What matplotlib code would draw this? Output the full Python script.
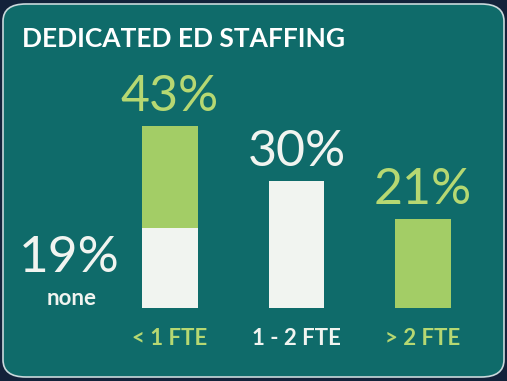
import matplotlib.pyplot as plt
from matplotlib.patches import FancyBboxPatch

# staffing shares (percent of EDs)
categories = ['< 1 FTE', '1 - 2 FTE', '> 2 FTE']
totals = [43, 30, 21]
none_share = 19

teal = '#0f6b6a'
navy = '#13223a'
green = '#a3cd66'
green_txt = '#b6d872'
white = '#f1f4f0'

plt.rcParams['font.family'] = ['Lato', 'DejaVu Sans']

fig = plt.figure(figsize=(5.07, 3.81), dpi=100)
fig.patch.set_facecolor(navy)

# rounded panel
panel = FancyBboxPatch((3 / 507, 4 / 381), 501 / 507, 373 / 381,
                       boxstyle='round,pad=0,rounding_size=0.045',
                       transform=fig.transFigure, facecolor=teal,
                       edgecolor='#c9d9dc', linewidth=1.2, zorder=-5)
fig.patches.append(panel)

ax = fig.add_axes([0, 0, 1, 1])
ax.set_facecolor('none')
ax.axis('off')
ax.set_xlim(-1.344, 2.664)
ax.set_ylim(-17.3, 72.8)

x = range(len(categories))
bar_cols = [green, white, green]
label_cols = [green_txt, white, green_txt]

# first bar: white "none" base, green up to total
bottoms = [none_share, 0, 0]
heights = [totals[0] - none_share, totals[1], totals[2]]
ax.bar(0, none_share, width=0.435, color=white)
ax.bar(x, heights, bottom=bottoms, width=0.435, color=bar_cols)

for i, (t, c) in enumerate(zip(totals, label_cols)):
    ax.annotate(f'{t}%', (i, t), xytext=(0, 11), textcoords='offset points',
                ha='center', va='baseline', fontsize=36, color=c)
    ax.annotate(categories[i], (i, 0), xytext=(0, -27), textcoords='offset points',
                ha='center', va='baseline', fontsize=16, fontweight='bold', color=c)

ax.text(-0.8, none_share * 0.44, f'{none_share}%', ha='center', va='baseline',
        fontsize=37, color=white)
ax.text(-0.78, none_share * 0.03, 'none', ha='center', va='baseline',
        fontsize=16, fontweight='bold', color=white)

fig.text(22 / 507, 1 - 47 / 381, 'DEDICATED ED STAFFING', ha='left', va='baseline',
         fontsize=19, fontweight='bold', color='white')

fig.savefig('out.png', dpi=100, facecolor=fig.get_facecolor())
